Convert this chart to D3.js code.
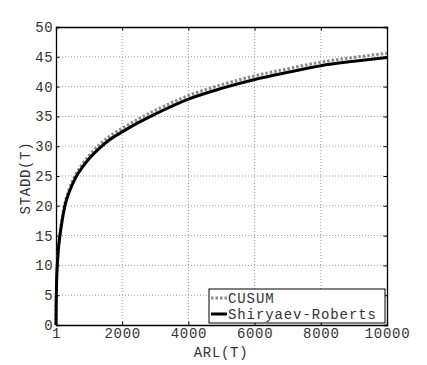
<!DOCTYPE html>
<html lang="en">
<head>
<meta charset="UTF-8">
<title>STADD vs ARL</title>
<script src="https://d3js.org/d3.v7.min.js"></script>
<style>
body { margin: 0; background: #fff; }
svg text { font-family: "Liberation Mono", "Courier New", monospace; fill: #333; }
.tick text { font-size: 14px; letter-spacing: 0.7px; }
.grid line { stroke: #999; stroke-width: 1; stroke-dasharray: 1,2; }
</style>
</head>
<body>
<svg id="chart" width="427" height="365"></svg>
<script>
// values
var arl       = [1, 5, 10, 20, 40, 70, 120, 180, 270, 400, 600, 800, 1000, 1300, 1600, 2000, 2500, 3000, 4000, 5000, 6000, 7000, 8000, 9000, 10000];
var srVals    = [0, 3.2, 5, 7.5, 10, 12.5, 15, 17.3, 20, 22.3, 24.8, 26.5, 27.9, 29.6, 31.0, 32.4, 34.0, 35.4, 37.9, 39.7, 41.2, 42.4, 43.5, 44.25, 44.9];
var cusumVals = [0, 3.4, 5.2, 7.7, 10.3, 12.8, 15.4, 17.7, 20.4, 22.8, 25.3, 27.0, 28.4, 30.2, 31.6, 33.0, 34.6, 36.0, 38.5, 40.3, 41.8, 43.0, 44.1, 44.9, 45.6];
var xTicks = [1, 2000, 4000, 6000, 8000, 10000];
var yTicks = [0, 5, 10, 15, 20, 25, 30, 35, 40, 45, 50];
var seriesNames = ["CUSUM", "Shiryaev-Roberts"];

var svg = d3.select("#chart");
var margin = {top: 27, right: 40, bottom: 40, left: 56};
var W = 387 - margin.left, H = 325 - margin.top;

var g = svg.append("g").attr("transform", "translate(" + margin.left + "," + margin.top + ")");

var x = d3.scaleLinear().domain([1, 10000]).range([0, W]);
var y = d3.scaleLinear().domain([0, 50]).range([H, 0]);

// grid
g.append("g").attr("class", "grid")
  .selectAll("line").data(xTicks.slice(1, -1)).enter().append("line")
  .attr("x1", x).attr("x2", x).attr("y1", 0).attr("y2", H);
g.append("g").attr("class", "grid")
  .selectAll("line").data(yTicks.slice(1, -1)).enter().append("line")
  .attr("x1", 0).attr("x2", W).attr("y1", y).attr("y2", y);

// axes (ticks inward, box style)
var tk = 3.5;
var xAx = g.append("g").attr("transform", "translate(0," + H + ")")
  .call(d3.axisBottom(x).tickValues(xTicks).tickSize(-tk).tickPadding(5).tickFormat(d3.format("d")));
var yAx = g.append("g")
  .call(d3.axisLeft(y).tickValues(yTicks).tickSize(-tk).tickPadding(4));
var xTop = g.append("g")
  .call(d3.axisTop(x).tickValues(xTicks).tickSize(-tk).tickFormat(""));
var yRight = g.append("g").attr("transform", "translate(" + W + ",0)")
  .call(d3.axisRight(y).tickValues(yTicks).tickSize(-tk).tickFormat(""));
[xAx, yAx, xTop, yRight].forEach(function(a) {
  a.select(".domain").attr("stroke", "#000").attr("stroke-width", 1.3);
  a.selectAll(".tick line").attr("stroke", "#000");
});
xAx.selectAll(".tick text").attr("dy", "0.6em");
yAx.selectAll(".tick text").attr("dx", "0.1em");

// lines
var line = d3.line().x(function(d) { return x(d[0]); }).y(function(d) { return y(d[1]); })
  .curve(d3.curveMonotoneX);

g.append("path")
  .datum(arl.map(function(a, i) { return [a, cusumVals[i]]; }))
  .attr("fill", "none").attr("stroke", "#8a8a8a").attr("stroke-width", 3)
  .attr("stroke-dasharray", "2.5,2")
  .attr("d", line);

g.append("path")
  .datum(arl.map(function(a, i) { return [a, srVals[i]]; }))
  .attr("fill", "none").attr("stroke", "#000").attr("stroke-width", 3)
  .attr("d", line);

// axis labels
svg.append("text").attr("x", 221).attr("y", 357).attr("text-anchor", "middle")
  .style("font-size", "14px").style("letter-spacing", "0.7px").text("ARL(T)");
svg.append("text").attr("transform", "translate(30,178) rotate(-90)").attr("text-anchor", "middle")
  .style("font-size", "14px").style("letter-spacing", "0.7px").text("STADD(T)");

// legend
var leg = svg.append("g").attr("transform", "translate(209,289)");
leg.append("rect").attr("width", 176).attr("height", 34)
  .attr("fill", "#fff").attr("stroke", "#000").attr("stroke-width", 1);
var styles = [
  {stroke: "#8a8a8a", dash: "2.5,2"},
  {stroke: "#000", dash: null}
];
seriesNames.forEach(function(name, i) {
  var cy = 9 + i * 16;
  leg.append("line").attr("x1", 2).attr("x2", 18).attr("y1", cy).attr("y2", cy)
    .attr("stroke", styles[i].stroke).attr("stroke-width", 3)
    .attr("stroke-dasharray", styles[i].dash);
  leg.append("text").attr("x", 19).attr("y", cy + 4.5)
    .style("font-size", "14px").style("letter-spacing", "0.9px").text(name);
});
</script>
</body>
</html>
